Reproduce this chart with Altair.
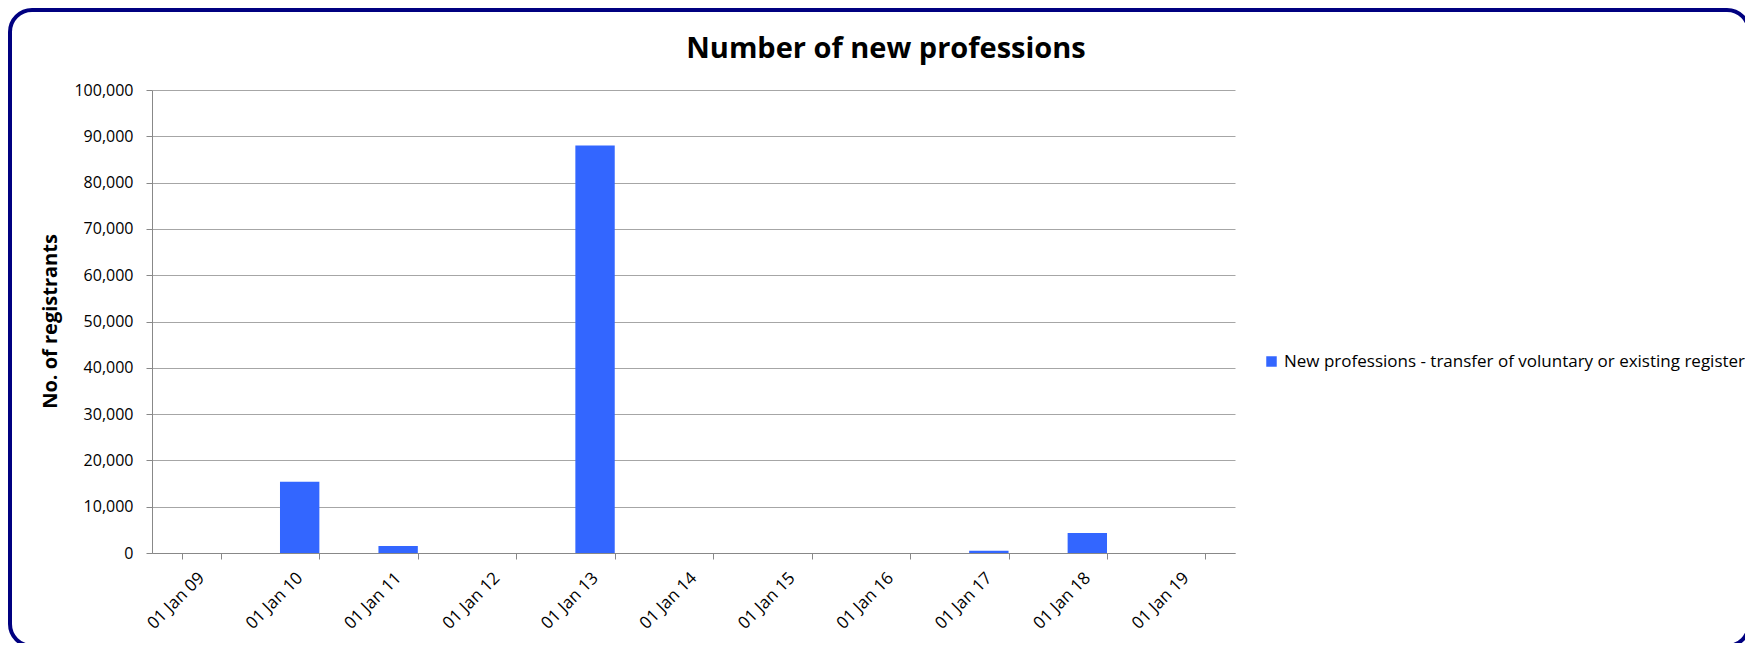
import altair as alt
import pandas as pd

categories = ["01 Jan 09", "01 Jan 10", "01 Jan 11", "01 Jan 12", "01 Jan 13", "01 Jan 14",
              "01 Jan 15", "01 Jan 16", "01 Jan 17", "01 Jan 18", "01 Jan 19"]
values = [0, 15400, 1500, 0, 88000, 0, 0, 0, 500, 4300, 0]
series_name = "New professions - transfer of voluntary or existing register"
title_text = "Number of new professions"
y_title = "No. of registrants"
y_ticks = list(range(0, 100001, 10000))

df = pd.DataFrame({"date": categories, "value": values, "series": [series_name] * len(categories)})

FONT = "Open Sans"

bars = alt.Chart(df).mark_bar(color="#3366FF").encode(
    x=alt.X("date:N", sort=categories, title=None,
            scale=alt.Scale(paddingInner=0.6, paddingOuter=0.3),
            axis=alt.Axis(labelAngle=-45, labelAlign="right", labelBaseline="middle",
                          labelPadding=16, tickBand="extent", tickSize=6, grid=False,
                          domainColor="#888888", tickColor="#888888",
                          labelFontSize=17, labelColor="#000000", labelFont=FONT)),
    y=alt.Y("value:Q", scale=alt.Scale(domain=[0, 100000], nice=False),
            axis=alt.Axis(values=y_ticks, format=",d", tickSize=6, grid=True,
                          gridColor="#A6A6A6", domainColor="#888888", tickColor="#888888",
                          labelPadding=13, labelFontSize=16, labelColor="#000000", labelFont=FONT,
                          title=y_title, titleFont=FONT, titleFontSize=20,
                          titleFontWeight="bold", titleColor="#000000",
                          titleX=-102, titleY=231, titleAngle=-90,
                          titleAlign="center", titleBaseline="middle")),
    color=alt.Color("series:N", scale=alt.Scale(range=["#3366FF"]),
                    legend=alt.Legend(title=None, orient="none", legendX=1111, legendY=263,
                                      symbolType="square", symbolSize=110, symbolStrokeWidth=0,
                                      labelFontSize=17, labelFont=FONT, labelColor="#000000",
                                      labelLimit=700)),
)

title = alt.Chart(pd.DataFrame({"t": [title_text]})).mark_text(
    font=FONT, fontSize=29, fontWeight="bold", color="#000000", align="center", baseline="middle"
).encode(text="t:N", x=alt.value(734), y=alt.value(-41))

border = alt.Chart(pd.DataFrame({"a": [0]})).mark_rect(
    filled=False, stroke="#000080", strokeWidth=4, cornerRadius=22
).encode(
    x=alt.value(-142), x2=alt.value(1597), y=alt.value(-80), y2=alt.value(556)
)

chart = alt.layer(bars, title, border).properties(
    width=1083, height=463,
    autosize=alt.AutoSizeParams(type="none"),
    padding={"left": 144, "top": 82, "right": 510, "bottom": 90},
).configure_view(stroke=None)

chart.save("out.html", embed_options={"renderer": "svg", "actions": False})
